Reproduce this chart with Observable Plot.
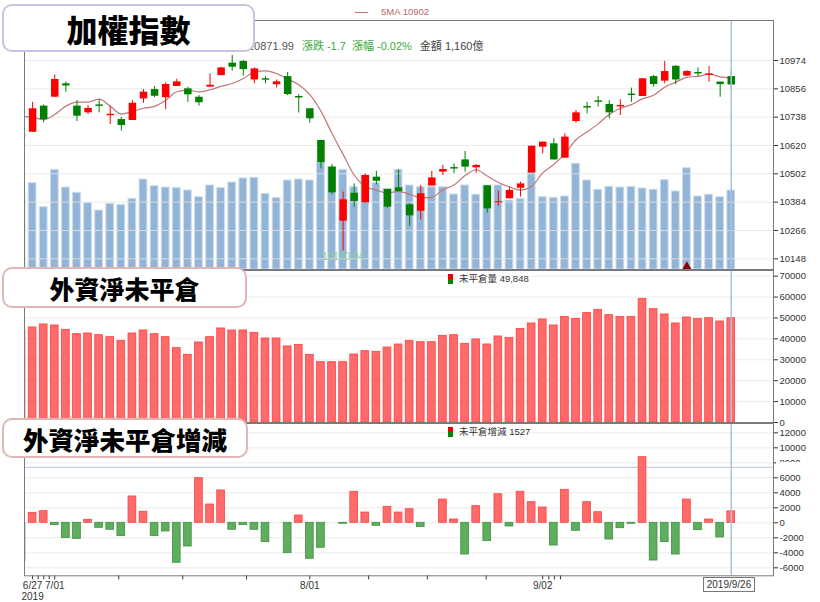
<!DOCTYPE html>
<html><head><meta charset="utf-8">
<script src="https://cdn.jsdelivr.net/npm/d3@7"></script>
<script src="https://cdn.jsdelivr.net/npm/@observablehq/plot@0.6"></script>
<style>
body{margin:0;background:#fff;}
#wrap{position:relative;width:820px;height:602px;overflow:hidden;background:#fff;font-family:"Liberation Sans","Noto Sans CJK TC",sans-serif;}
.layer{position:absolute;left:0;}
.layer svg{overflow:visible;display:block;}
.tbox{position:absolute;box-sizing:border-box;background:#fff;border:2px solid;border-radius:10px;display:flex;align-items:center;justify-content:center;font-family:"Noto Sans CJK TC";font-weight:900;color:#000;white-space:nowrap;}
.txt{position:absolute;white-space:nowrap;}
.icon{position:absolute;width:5px;height:10px;background:linear-gradient(#e00 50%,#080 50%);}
</style></head>
<body><div id="wrap">
<div class="layer" id="vol" style="top:0"></div>
<div class="layer" id="price" style="top:0"></div>
<div class="layer" id="oi" style="top:270px"></div>
<div class="layer" id="chg" style="top:423px"></div>
</div>
<script>
const dates = ["6/26","6/27","6/28","7/01","7/02","7/03","7/04","7/05","7/08","7/09","7/10","7/11","7/12","7/15","7/16","7/17","7/18","7/19","7/22","7/23","7/24","7/25","7/26","7/29","7/30","7/31","8/01","8/02","8/05","8/06","8/07","8/08","8/12","8/13","8/14","8/15","8/16","8/19","8/20","8/21","8/22","8/23","8/26","8/27","8/28","8/29","8/30","9/02","9/03","9/04","9/05","9/06","9/09","9/10","9/11","9/12","9/16","9/17","9/18","9/19","9/20","9/23","9/24","9/25","9/26"];
const open = [10665,10675,10784,10821,10877,10784,10756,10789,10744,10728,10724,10814,10853,10819,10866,10856,10821,10863,10911,10963,10970,10893,10898,10873,10907,10824,10773,10641,10530,10305,10421,10381,10488,10437,10444,10373,10346,10451,10509,10528,10560,10527,10452,10381,10398,10442,10506,10613,10627,10567,10720,10782,10806,10791,10781,10834,10824,10907,10888,10950,10909,10924,10912,10884,10907];
const high = [10670,10800,10789,10914,10885,10807,10787,10810,10782,10738,10807,10853,10866,10881,10896,10863,10828,10918,10946,10995,10974,10943,10907,10893,10924,10832,10773,10641,10541,10426,10460,10502,10513,10437,10519,10377,10453,10512,10537,10544,10595,10541,10452,10430,10446,10467,10617,10634,10648,10669,10766,10800,10824,10807,10810,10859,10898,10912,10970,10953,10932,10943,10949,10884,10932];
const low = [10648,10675,10714,10821,10842,10720,10749,10756,10707,10680,10724,10796,10819,10769,10866,10800,10784,10863,10911,10930,10909,10877,10877,10860,10828,10755,10713,10523,10416,10180.04,10363,10381,10456,10359,10426,10283,10310,10451,10495,10502,10509,10505,10338,10367,10398,10405,10506,10585,10558,10567,10713,10752,10780,10731,10745,10800,10824,10863,10877,10873,10907,10907,10884,10821,10856];
const close = [10654,10773,10728,10895,10868,10742,10774,10783,10750,10703,10796,10842,10825,10874,10885,10831,10798,10871,10943,10946,10936,10939,10892,10885,10832,10818,10731,10548,10423,10394,10387,10495,10471,10363,10428,10327,10419,10485,10520,10522,10530,10537,10356,10386,10433,10460,10617,10634,10560,10655,10756,10776,10800,10756,10787,10828,10898,10874,10928,10893,10928,10918,10918,10873.69,10871.99];
const ma5 = [10741,10738,10728,10749,10784,10801,10801,10813,10784,10751,10762,10775,10783,10808,10844,10851,10843,10852,10866,10878,10899,10927,10931,10920,10897,10873,10832,10763,10670,10583,10497,10449,10434,10422,10429,10417,10402,10404,10436,10455,10495,10519,10493,10466,10448,10434,10450,10506,10541,10585,10644,10676,10710,10749,10775,10790,10814,10829,10863,10884,10904,10908,10917,10906,10902];
const amount = [1100,1269,916,1465,1205,1127,975,867,965,946,1039,1323,1225,1205,1196,1161,1063,1235,1196,1279,1338,1348,1112,1049,1308,1323,1308,1568,1504,1465,1210,1382,1269,1186,1465,1235,1210,1210,1210,1103,1235,1098,1235,1235,1014,1039,1450,1063,1054,1073,1554,1308,1171,1215,1205,1215,1191,1171,1313,1147,1489,1073,1098,1063,1160];
const openInterest = [43830,45460,46890,46410,44330,42250,42570,41780,40820,39070,42570,44020,42250,40820,35550,32370,38280,40820,44980,44020,44020,42890,40190,40190,36370,37140,32370,28850,28850,28850,32530,34120,33800,35870,37300,39050,38420,38420,41440,41770,37610,39720,37320,41150,40480,44790,47370,49290,46410,50530,49570,52440,53880,51340,50530,50530,59140,54210,51680,47370,50240,49570,49910,48320,49848];
const oiChange = [-5120,1330,1550,-310,-2050,-2140,400,-670,-930,-1780,3510,1470,-1780,-1160,-5330,-3160,5950,2440,4310,-930,-310,-930,-2580,0,-4050,970,-4800,-3330,0,-130,4130,1370,-400,2130,1370,1810,-580,0,3100,440,-4230,2220,-2450,3810,-490,4130,2750,2040,-3030,4400,-1070,2750,1410,-2230,-720,-130,8750,-5030,-2580,-4230,3100,-980,440,-1960,1527];
const priceTicks = [10148,10266,10384,10502,10620,10738,10856,10974];
const oiTicks = [0,10000,20000,30000,40000,50000,60000,70000];
const chgTicks = [-6000,-4000,-2000,0,2000,4000,6000,8000,10000,12000];
const xTicks = [1,1.5,2,2.5,3,8.77,14.54,20.29,26,31.3,36.6,41.9,47,47.55,48.05,48.6];
const xTickLabels = {1:"6/27\n2019",3:"7/01",26:"8/01",47:"9/02"};
const markerIdx = [60];
const crossIdx = 64;
const crossChg = 7400;

const rows = dates.map((d,i)=>({i, date:d, open:open[i], high:high[i], low:low[i], close:close[i], ma:ma5[i], amount:amount[i], oi:openInterest[i], chg:oiChange[i]}));
const RED="#ff0000", GREEN="#008000";
const W=820, ML=24, MR=47;
const xDom=[0.27,67.81];
const half=0.35;
const base={width:W, marginLeft:ML, marginRight:MR, color:{type:"identity"},
  style:{background:"transparent", fontFamily:"Liberation Sans", fontSize:"9.5px", color:"#333", overflow:"visible"}};
const crossRule = Plot.ruleX([crossIdx], {x:d=>d, stroke:"#a9c3e3", strokeWidth:1.5});

// volume layer
document.getElementById("vol").append(Plot.plot({...base, height:270, marginTop:20, marginBottom:1,
  x:{domain:xDom, axis:null}, y:{domain:[0,3660], axis:null},
  marks:[
    Plot.rect(rows, {x1:d=>d.i-half, x2:d=>d.i+half, y1:0, y2:"amount", fill:"#92b5d7", stroke:"#cddcec", strokeWidth:1, clip:true}),
    Plot.dot(markerIdx, {x:d=>d, y:0, dy:-3, symbol:"triangle", r:3.4, fill:"#8b0000", stroke:"none"})
  ]}));

// price layer
const lowest = d3.least(rows, d=>d.low);
document.getElementById("price").append(Plot.plot({...base, height:270, marginTop:20, marginBottom:1,
  x:{domain:xDom, axis:null}, y:{domain:[10103.5,11140.6], axis:null},
  marks:[
    Plot.ruleY(priceTicks, {stroke:"#e6e6e6", strokeOpacity:0.8}),
    Plot.line(rows, {x:"i", y:"ma", stroke:"#c07777", strokeWidth:1.2, curve:"monotone-x", clip:true}),
    Plot.ruleX(rows, {x:"i", y1:"low", y2:"high", stroke:d=>d.close>=d.open?RED:GREEN, strokeWidth:1, clip:true}),
    Plot.ruleX(rows, {x:"i", y1:"open", y2:"close", stroke:d=>d.close>=d.open?RED:GREEN, strokeWidth:7.5, clip:true}),
    Plot.text([lowest], {x:"i", y:"low", text:d=>d.low.toFixed(2), dy:6, fill:"#8fcf8f", fontSize:10}),
    crossRule,
    Plot.axisY({anchor:"right", label:null, ticks:priceTicks, tickFormat:d=>String(d), tickSize:4, tickPadding:2}),
    Plot.frame({stroke:"#7a7a7a"})
  ]}));

// open interest layer
document.getElementById("oi").append(Plot.plot({...base, height:153, marginTop:0, marginBottom:1,
  x:{domain:xDom, axis:null}, y:{domain:[0,72700], axis:null},
  marks:[
    Plot.ruleY(oiTicks, {stroke:"#ececec"}),
    Plot.rect(rows, {x1:d=>d.i-half, x2:d=>d.i+half, y1:0, y2:"oi", fill:"#ff6b6b", stroke:"#ff4141", strokeWidth:0.8, clip:true}),
    crossRule,
    Plot.axisY({anchor:"right", label:null, ticks:oiTicks, tickFormat:d=>String(d), tickSize:4, tickPadding:2}),
    Plot.frame({stroke:"#7a7a7a"})
  ]}));

// change layer
document.getElementById("chg").append(Plot.plot({...base, height:179, marginTop:0, marginBottom:26.7,
  x:{domain:xDom, axis:null}, y:{domain:[-7067,13240], axis:null},
  marks:[
    Plot.ruleY(chgTicks, {stroke:"#ececec"}),
    Plot.ruleY([crossChg], {stroke:"#b9c4ee", strokeWidth:1}),
    Plot.rect(rows, {x1:d=>d.i-half, x2:d=>d.i+half, y1:0, y2:"chg", fill:d=>d.chg>=0?"#ff6b6b":"#5fae5f", stroke:d=>d.chg>=0?"#ff4141":"#3f913f", strokeWidth:0.8, clip:true}),
    crossRule,
    Plot.axisY({anchor:"right", label:null, ticks:chgTicks, tickFormat:d=>String(d), tickSize:4, tickPadding:2}),
    Plot.axisX({label:null, ticks:xTicks, tickFormat:d=>xTickLabels[d] ?? "", tickSize:4, tickPadding:2, fill:"#333", fontSize:10, lineHeight:1.05}),
    Plot.frame({stroke:"#7a7a7a"})
  ]}));

// overlays
const wrap = document.getElementById("wrap");
function add(html){ wrap.insertAdjacentHTML("beforeend", html); }
const last = rows[rows.length-1], prev = rows[rows.length-2];
const diff = last.close - prev.close;
const pct = diff/prev.close*100;
add(`<div class="txt" style="left:248px;top:39px;font-size:11px;line-height:15px;color:#555">${last.close.toFixed(2)}<span style="color:#3daa3d;margin-left:8px">漲跌 ${diff.toFixed(1)}</span><span style="color:#3daa3d;margin-left:6px">漲幅 ${pct.toFixed(2)}%</span><span style="color:#444;margin-left:8px">金額 ${d3.format(",")(last.amount)}億</span></div>`);
add(`<div style="position:absolute;left:355px;top:12px;width:13px;height:0;border-top:1px solid #c07777"></div>`);
add(`<div class="txt" style="left:381px;top:6px;font-size:9.5px;line-height:12px;color:#b86868">5MA ${last.ma}</div>`);
add(`<div class="icon" style="left:448px;top:274px"></div><div class="txt" style="left:459px;top:272px;font-size:9.5px;line-height:13px;color:#333">未平倉量 ${d3.format(",")(last.oi)}</div>`);
add(`<div class="icon" style="left:448px;top:427px"></div><div class="txt" style="left:459px;top:425px;font-size:9.5px;line-height:13px;color:#333">未平倉增減 ${last.chg}</div>`);
add(`<div style="position:absolute;left:776px;top:461.7px;width:40px;height:13.3px;background:#fff"></div>`);
add(`<div style="position:absolute;left:703px;top:577px;width:52px;height:15px;box-sizing:border-box;border:1px solid #777;background:#fff;font-size:10px;line-height:13px;text-align:center;color:#333">2019/${dates[crossIdx].replace(/^0/,"").replace("/0","/")}</div>`);
add(`<div class="tbox" style="left:2px;top:4px;width:253px;height:48px;border-color:#cbc2e0;font-size:31px">加權指數</div>`);
add(`<div class="tbox" style="left:2px;top:267px;width:245px;height:41px;border-color:#e3b6b6;font-size:25px">外資淨未平倉</div>`);
add(`<div class="tbox" style="left:2px;top:418px;width:246px;height:40px;border-color:#e3b6b6;font-size:25.5px">外資淨未平倉增減</div>`);
</script>
</body></html>
